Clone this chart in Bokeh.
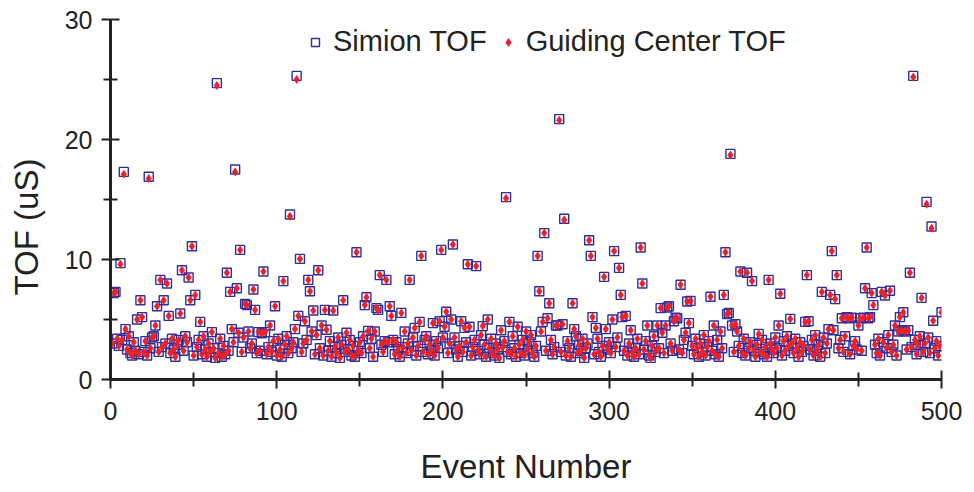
from bokeh.plotting import figure
from bokeh.models import FixedTicker, Legend, LegendItem, Range1d
from bokeh.embed import file_html
from bokeh.resources import INLINE

# Event numbers (x axis)
event_number = list(range(1, 501))

# Simion TOF (uS), 10 events per row
simion_tof = [
    3.0, 7.2, 7.3, 3.4, 2.8, 9.7, 3.3, 17.3, 4.2, 2.5,
    3.6, 2.2, 2.0, 3.1, 2.4, 5.0, 2.1, 6.6, 5.2, 2.3,
    3.2, 2.0, 16.9, 2.6, 3.5, 3.6, 4.5, 6.1, 2.3, 8.3,
    2.7, 6.6, 3.0, 8.0, 5.3, 2.2, 3.4, 2.5, 1.9, 2.9,
    3.3, 5.5, 9.1, 2.4, 3.6, 3.1, 8.5, 6.6, 11.1, 2.0,
    7.05, 2.7, 3.3, 4.8, 2.1, 3.6, 2.5, 1.9, 3.0, 2.3,
    3.95, 2.6, 1.8, 24.7, 2.2, 3.4, 1.9, 2.8, 2.1, 8.9,
    2.4, 7.3, 4.2, 3.1, 17.5, 7.6, 3.9, 10.8, 2.3, 3.5,
    6.3, 6.2, 4.0, 2.6, 3.0, 7.5, 5.8, 2.2, 3.95, 2.4,
    3.85, 9.0, 3.95, 2.1, 2.7, 4.5, 2.3, 3.2, 6.1, 2.0,
    3.4, 2.5, 1.9, 8.2, 2.9, 3.6, 2.2, 13.75, 2.6, 3.1,
    4.2, 25.3, 5.3, 10.05, 2.3, 3.0, 4.85, 3.3, 8.3, 7.35,
    4.0, 5.75, 2.1, 3.7, 9.1, 2.6, 4.5, 2.0, 5.8, 4.15,
    2.4, 3.2, 1.9, 5.75, 2.7, 2.2, 3.5, 1.8, 2.9, 6.6,
    2.3, 3.9, 2.5, 3.3, 2.0, 2.8, 1.9, 10.6, 2.4, 3.1,
    2.2, 3.6, 6.2, 6.85, 4.05, 2.6, 3.4, 1.9, 4.0, 5.95,
    5.8, 8.7, 2.9, 2.3, 3.2, 8.3, 3.1, 6.1, 5.3, 3.3,
    2.1, 3.1, 2.5, 1.9, 5.55, 2.7, 4.0, 2.2, 3.0, 8.3,
    2.4, 3.5, 4.3, 2.0, 2.8, 4.8, 10.3, 2.3, 3.3, 3.6,
    2.1, 2.9, 2.4, 4.7, 2.0, 3.2, 2.6, 4.85, 10.8, 3.5,
    4.4, 5.65, 2.2, 3.0, 5.0, 11.25, 3.5, 2.5, 1.9, 2.8,
    4.85, 2.3, 4.3, 3.1, 9.6, 4.4, 2.0, 2.7, 3.3, 9.45,
    2.4, 2.1, 3.7, 4.45, 2.9, 1.9, 5.0, 2.6, 3.4, 2.2,
    2.0, 3.0, 2.5, 1.8, 4.1, 2.7, 3.2, 15.2, 2.3, 4.8,
    2.1, 3.6, 2.6, 1.9, 4.4, 2.9, 2.2, 3.3, 2.0, 4.0,
    2.5, 3.1, 3.7, 2.2, 1.9, 2.8, 10.3, 7.35, 4.0, 4.8,
    12.2, 2.4, 5.1, 6.35, 3.3, 2.1, 2.7, 4.5, 4.5, 21.7,
    2.3, 4.6, 13.4, 2.0, 3.2, 2.6, 1.9, 6.35, 4.2, 3.6,
    2.2, 2.9, 2.4, 3.4, 1.8, 2.6, 3.0, 11.6, 10.3, 5.2,
    2.1, 4.3, 3.4, 2.3, 1.9, 2.8, 8.55, 4.2, 2.5, 3.1,
    2.2, 5.0, 10.7, 2.7, 3.5, 9.3, 7.05, 5.2, 2.4, 5.3,
    2.0, 3.0, 4.1, 2.3, 1.9, 2.6, 3.4, 2.1, 11.0, 8.0,
    2.5, 3.2, 4.5, 2.0, 1.8, 2.8, 3.6, 2.3, 4.5, 2.6,
    5.95, 3.9, 2.2, 4.5, 6.0, 6.1, 3.0, 2.4, 4.85, 5.15,
    5.1, 2.5, 7.9, 2.2, 3.3, 3.9, 6.5, 4.7, 6.55, 2.8,
    2.1, 3.4, 2.6, 1.9, 3.0, 2.3, 3.7, 2.0, 2.7, 3.2,
    6.9, 2.4, 4.5, 2.1, 3.3, 1.9, 4.0, 2.6, 7.05, 10.6,
    5.45, 5.55, 18.8, 4.5, 2.3, 4.6, 4.0, 2.8, 9.0, 2.2,
    3.4, 2.0, 8.9, 2.6, 3.1, 8.2, 2.4, 1.9, 2.9, 3.8,
    2.3, 3.3, 2.1, 2.7, 1.9, 8.3, 3.0, 2.5, 2.2, 3.5,
    2.6, 4.5, 7.15, 2.0, 3.2, 2.4, 3.6, 2.8, 5.05, 3.0,
    2.2, 3.4, 2.6, 1.9, 3.1, 2.3, 2.8, 4.8, 8.7, 4.85,
    2.5, 3.3, 2.0, 3.7, 2.4, 2.9, 1.9, 7.3, 3.5, 2.2,
    3.0, 4.2, 7.05, 10.7, 4.1, 6.7, 8.7, 2.6, 3.3, 5.1,
    2.3, 3.6, 5.2, 5.1, 2.1, 5.15, 2.8, 3.2, 2.5, 4.5,
    5.1, 2.4, 5.15, 7.6, 11.0, 5.1, 5.2, 7.2, 6.2, 2.9,
    2.2, 3.4, 2.0, 7.3, 3.1, 7.0, 2.6, 3.7, 7.4, 2.3,
    2.9, 4.5, 2.0, 4.0, 5.2, 4.1, 5.6, 4.0, 2.5, 4.1,
    8.9, 2.7, 25.3, 3.3, 2.1, 2.9, 3.6, 6.8, 2.3, 3.0,
    14.8, 3.5, 2.2, 12.75, 4.9, 2.6, 3.2, 2.0, 2.8, 5.6,
]

# Guiding Center TOF (uS): equal to Simion within the marker size,
# except these events, where the red marker sits visibly lower
guiding_center_differs = {
    6: 9.6, 8: 17.1, 23: 16.75, 64: 24.5, 75: 17.3, 108: 13.6,
    112: 25.0, 238: 15.1, 270: 21.6, 273: 13.3, 373: 18.7,
    483: 25.2, 491: 14.6, 494: 12.6,
}
guiding_center_tof = [guiding_center_differs.get(e, v)
                      for e, v in zip(event_number, simion_tof)]

x_ticks = [0, 100, 200, 300, 400, 500]
x_minor = [50, 150, 250, 350, 450]
y_ticks = [0, 10, 20, 30]
y_minor = [5, 15, 25]

FONT = "Liberation Sans"
TXT = "#222222"

p = figure(width=974, height=492, output_backend="svg", toolbar_location=None,
           x_range=Range1d(0, 500), y_range=Range1d(0, 30),
           min_border_left=110, min_border_right=33,
           min_border_top=19, min_border_bottom=113)
p.outline_line_color = None
p.grid.visible = False
p.background_fill_color = "white"
p.border_fill_color = "white"

sq = p.scatter(event_number, simion_tof, marker="square", size=9,
               fill_color=None, line_color="#2e2e9e", line_width=1.4)
gc = p.scatter(event_number, guiding_center_tof, marker="diamond", size=8,
               fill_color="#ea2228", line_color="#ea2228", line_width=0.8)

for ax in (p.xaxis[0], p.yaxis[0]):
    ax.axis_line_color = "#222222"
    ax.axis_line_width = 3
    ax.major_tick_line_color = "#222222"
    ax.major_tick_line_width = 2
    ax.minor_tick_line_color = "#222222"
    ax.minor_tick_line_width = 2
    ax.major_tick_in = 9
    ax.major_tick_out = 9
    ax.minor_tick_in = 7
    ax.minor_tick_out = 7
    ax.major_label_text_font = FONT
    ax.major_label_text_color = TXT
    ax.major_label_text_font_size = "25px"
    ax.axis_label_text_font = FONT
    ax.axis_label_text_font_style = "normal"
    ax.axis_label_text_color = TXT
    ax.axis_label_text_font_size = "33px"

p.xaxis[0].ticker = FixedTicker(ticks=x_ticks, minor_ticks=x_minor)
p.yaxis[0].ticker = FixedTicker(ticks=y_ticks, minor_ticks=y_minor)
p.xaxis[0].axis_label = "Event Number"
# trailing no-break spaces let the title sit a little below the axis centre
p.yaxis[0].axis_label = "TOF (uS)" + "\u00a0" * 6
p.xaxis[0].major_label_standoff = 13
p.yaxis[0].major_label_standoff = 9
p.xaxis[0].axis_label_standoff = 25
p.yaxis[0].axis_label_standoff = 17

legend = Legend(items=[LegendItem(label="Simion TOF", renderers=[sq]),
                       LegendItem(label="Guiding Center TOF", renderers=[gc])],
                orientation="horizontal", location=(195, 321),
                border_line_color=None, background_fill_alpha=0,
                label_text_font=FONT, label_text_font_size="29px",
                label_text_color=TXT, glyph_width=20, label_standoff=8,
                spacing=11, padding=0, margin=0)
p.add_layout(legend)

open("out.html", "w").write(file_html(p, INLINE))
